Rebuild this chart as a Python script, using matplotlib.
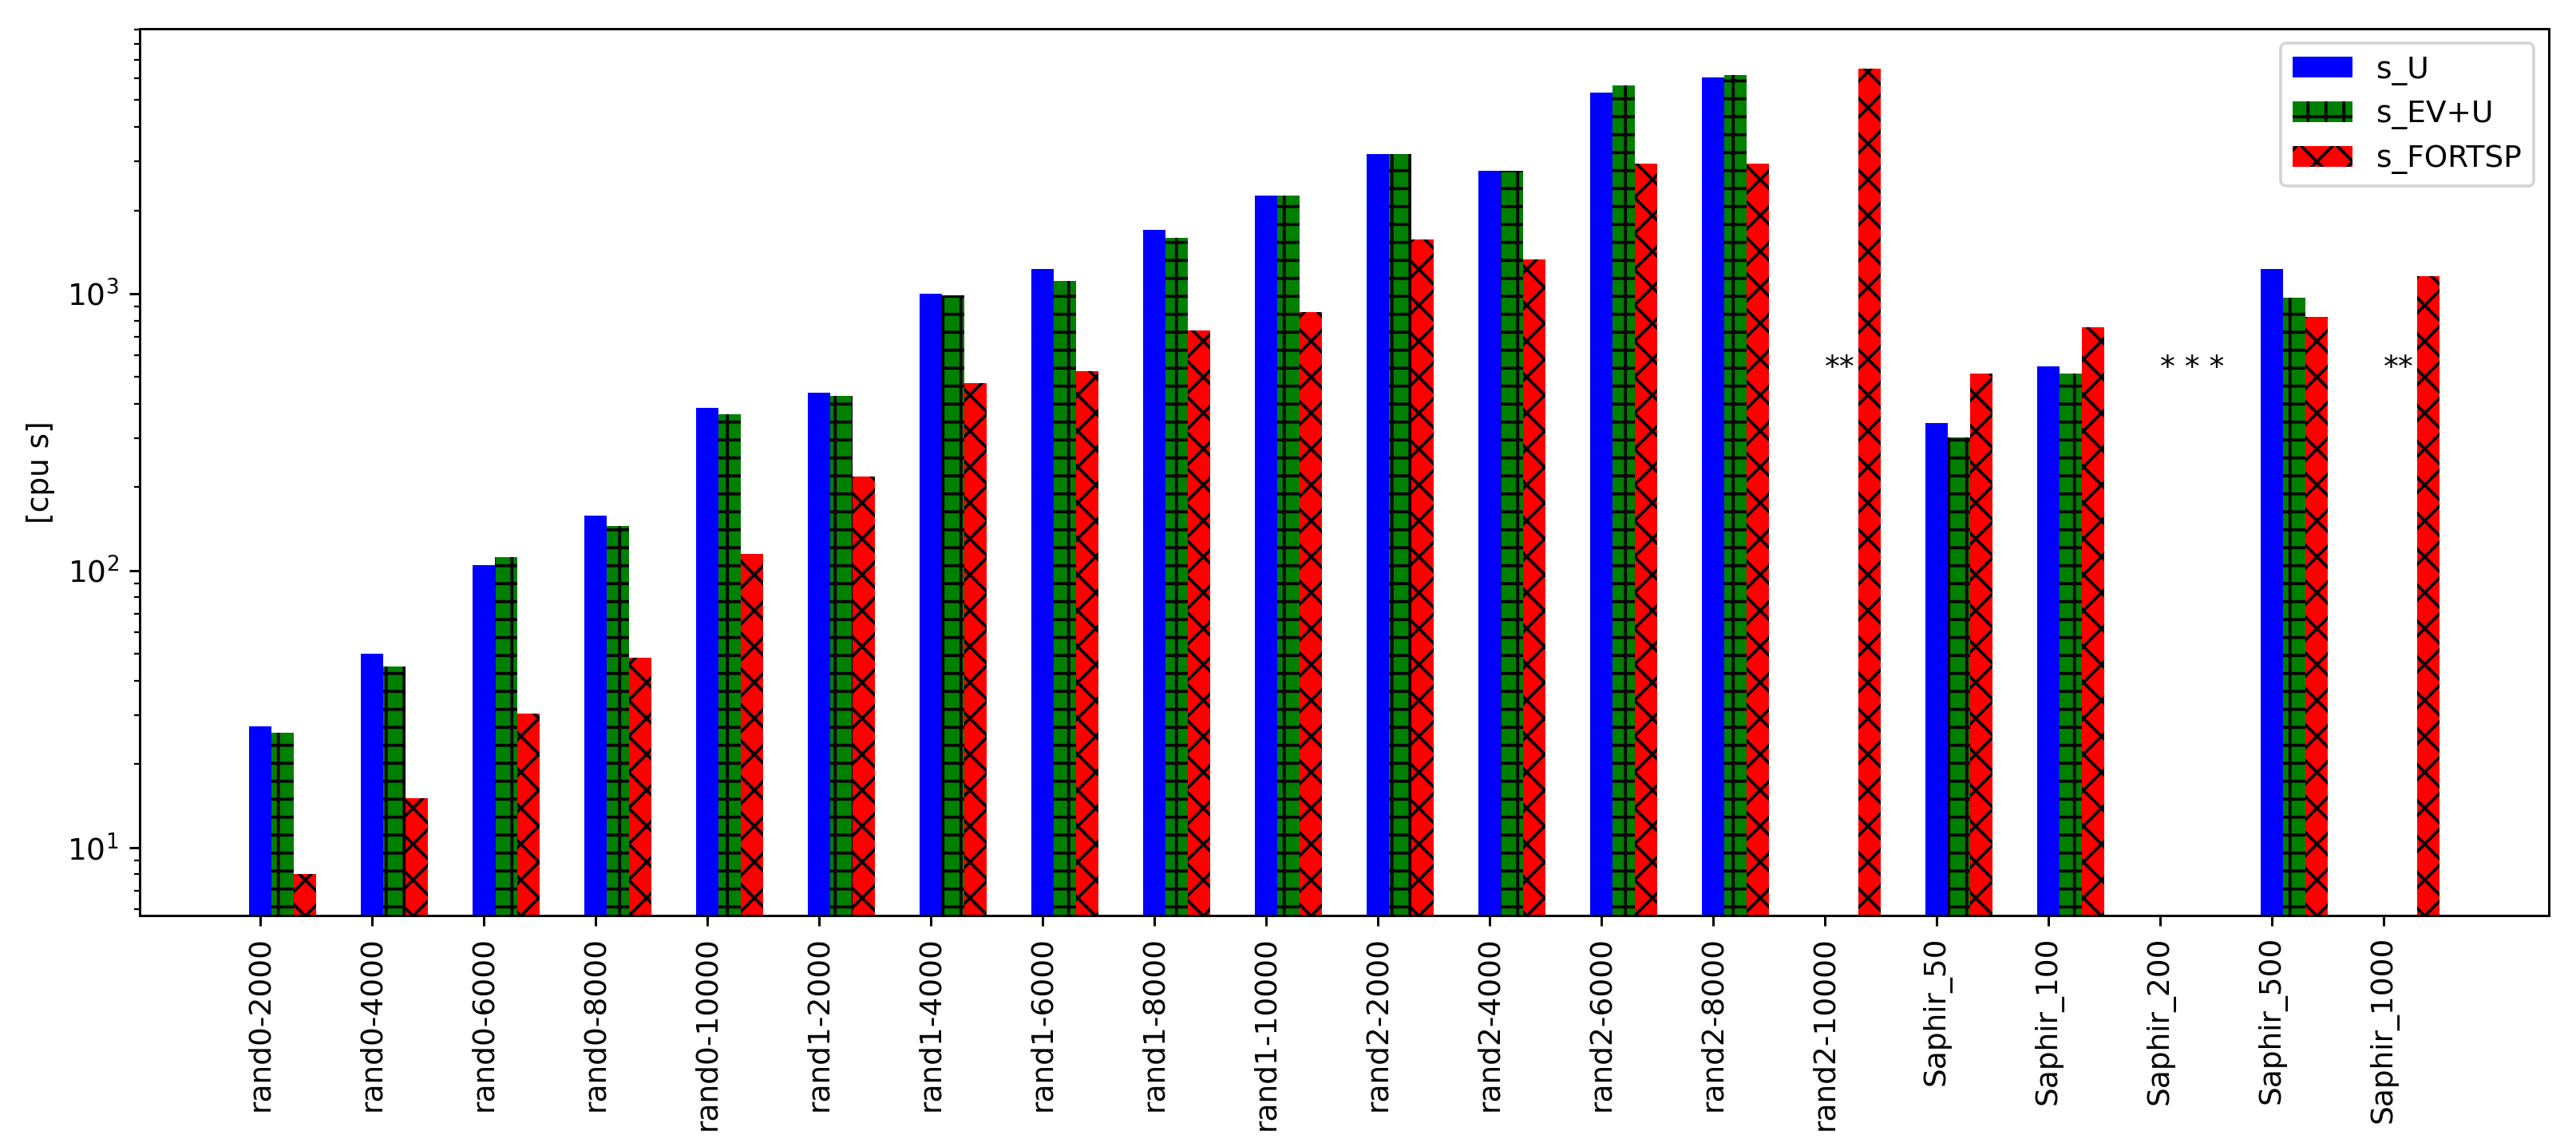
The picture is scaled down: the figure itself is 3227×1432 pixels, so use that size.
import matplotlib
matplotlib.use("Agg")
import matplotlib.pyplot as plt
import numpy as np

# cpu seconds per instance, nan = no result (marked with asterisks)
instances = [
    "rand0-2000", "rand0-4000", "rand0-6000", "rand0-8000", "rand0-10000",
    "rand1-2000", "rand1-4000", "rand1-6000", "rand1-8000", "rand1-10000",
    "rand2-2000", "rand2-4000", "rand2-6000", "rand2-8000", "rand2-10000",
    "Saphir_50", "Saphir_100", "Saphir_200", "Saphir_500", "Saphir_1000",
]
s_u = [27.4, 50.2, 105, 158, 388, 440, 998, 1225, 1698, 2266,
       3185, 2782, 5335, 6051, np.nan, 342, 546, np.nan, 1225, np.nan]
s_ev_u = [25.9, 45.1, 112, 145, 367, 428, 985, 1112, 1586, 2266,
          3185, 2782, 5637, 6150, np.nan, 302, 516, np.nan, 970, np.nan]
s_fortsp = [8.0, 15.1, 30.4, 48.4, 115, 219, 476, 525, 738, 859,
            1567, 1328, 2951, 2951, 6490, 516, 755, np.nan, 826, 1159]
notes = {"rand2-10000": "**", "Saphir_200": "* * *", "Saphir_1000": "**"}
note_level = 500

fig = plt.figure(figsize=(11.952, 5.304), dpi=270)
fig.patch.set_facecolor("white")
ax = fig.add_axes([0.0542, 0.1992, 0.9352, 0.7758])

x = np.arange(len(instances))
w = 0.2
ax.bar(x, s_u, w, color="blue", label="s_U")
ax.bar(x + w, s_ev_u, w, color="green", hatch="++", label="s_EV+U")
ax.bar(x + 2 * w, s_fortsp, w, color="red", hatch="xx", label="s_FORTSP")

for i, name in enumerate(instances):
    if name in notes:
        ax.text(x[i], note_level, notes[name], ha="left")

ax.set_yscale("log")
ax.set_xlim(-1.08, 20.48)
ax.set_ylim(5.69, 9070)
ax.set_xticks(x)
ax.set_xticklabels(instances, rotation=90)
ax.set_ylabel("[cpu s]")
ax.legend(loc="upper right")

fig.savefig("out.png", dpi=270)
